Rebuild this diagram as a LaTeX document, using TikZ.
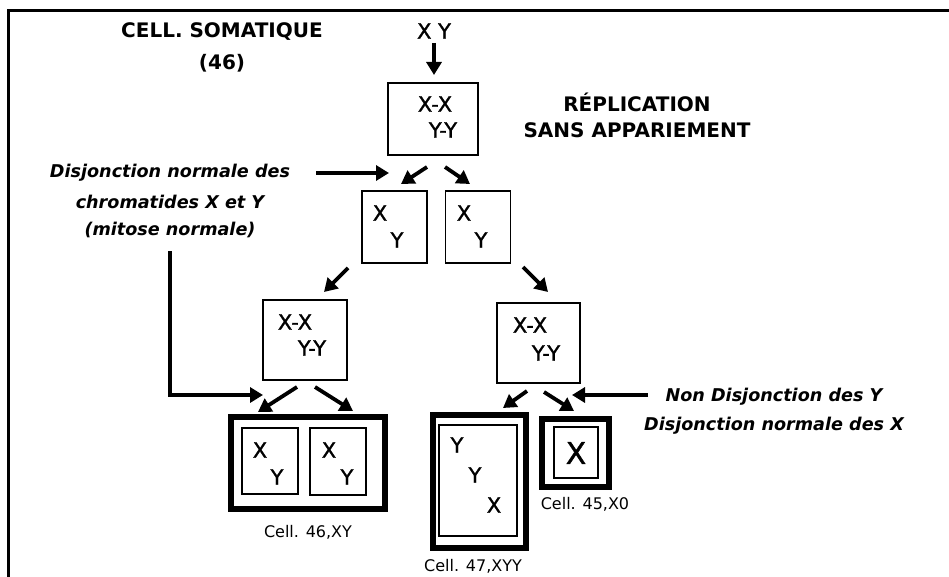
\documentclass[tikz,border=0pt]{standalone}
\usepackage{fontspec}
\setmainfont{DejaVu Sans}
\newfontfamily\chrfont[FakeBold=1.3]{DejaVu Sans}
\usetikzlibrary{arrows.meta}
\tikzset{
  arr/.style={line width=3.8pt,-{Triangle[length=13pt,width=15pt]}},
  cbox/.style={draw,line width=1.3pt,inner sep=0pt},
  tbox/.style={draw,line width=6pt,inner sep=0pt},
  lbl/.style={font=\bfseries\fontsize{20}{22}\selectfont,inner sep=0pt},
  itl/.style={font=\bfseries\itshape\fontsize{17.6}{20}\selectfont,inner sep=0pt},
  chr/.style={font=\chrfont\fontsize{21}{23}\selectfont,inner sep=0pt},
  celllbl/.style={font=\fontsize{16}{18}\selectfont,inner sep=0pt},
}
\begin{document}
\begin{tikzpicture}[x=1pt,y=-1pt]
\useasboundingbox (0,0) rectangle (949,577);
\draw[line width=3pt] (8,580) -- (8,11) -- (952,11);
% labels
\node[lbl] (som) at (222,32) {CELL. SOMATIQUE};
\node[lbl] (n46) at (222,63) {(46)};
\node[chr] (xy) at (434,31) {X Y};
\node[lbl] (rep) at (637,102) {RÉPLICATION};
\node[lbl] (sans) at (637,130) {SANS APPARIEMENT};
\node[itl] (d1) at (170,173) {Disjonction normale des};
\node[itl] (d2) at (170,202) {chromatides X et Y};
\node[itl] (d3) at (170,230) {(mitose normale)};
\node[itl] (n1) at (774,397) {Non Disjonction des Y};
\node[itl] (n2) at (774,426) {Disjonction normale des X};
% boxes
\node[cbox,minimum width=90pt,minimum height=72pt] (b1) at (433,119) {};
\node[chr] (b1x) at (435,104) {X-X};
\node[chr] (b1y) at (443,130) {Y-Y};
\node[cbox,minimum width=65pt,minimum height=72pt] (b2a) at (394.5,227) {};
\node[chr] (b2ax) at (380,213) {X};
\node[chr] (b2ay) at (397,240) {Y};
\node[cbox,minimum width=65pt,minimum height=72pt] (b2b) at (478,227) {};
\node[chr] (b2bx) at (464,213) {X};
\node[chr] (b2by) at (481,240) {Y};
\node[cbox,minimum width=84pt,minimum height=80pt] (b3a) at (305,340) {};
\node[chr] (b3ax) at (295,322) {X-X};
\node[chr] (b3ay) at (312,348) {Y-Y};
\node[cbox,minimum width=83pt,minimum height=80pt] (b3b) at (538.5,343) {};
\node[chr] (b3bx) at (530,325) {X-X};
\node[chr] (b3by) at (546,353) {Y-Y};
% final cells
\node[tbox,minimum width=154pt,minimum height=92pt] (c46) at (308,463) {};
\node[cbox,minimum width=56pt,minimum height=66pt] (c46a) at (270,461) {};
\node[cbox,minimum width=56pt,minimum height=67pt] (c46b) at (338,461.5) {};
\node[chr] (c46ax) at (260,450) {X};
\node[chr] (c46ay) at (277,477) {Y};
\node[chr] (c46bx) at (329,450) {X};
\node[chr] (c46by) at (347,477) {Y};
\node[celllbl] (l46) at (308,532) {Cell. 46,XY};
\node[tbox,minimum width=93pt,minimum height=133pt] (c47) at (479.5,481.5) {};
\node[cbox,minimum width=78pt,minimum height=111pt] (c47i) at (478,480.5) {};
\node[chr] (c47y1) at (457,445) {Y};
\node[chr] (c47y2) at (475,475) {Y};
\node[chr] (c47x) at (494,505) {X};
\node[celllbl] (l47) at (473,566) {Cell. 47,XYY};
\node[tbox,minimum width=67pt,minimum height=68pt] (c45) at (575.5,453) {};
\node[cbox,minimum width=44pt,minimum height=51pt] (c45i) at (576,452.5) {};
\node[chr,font=\chrfont\fontsize{30}{32}\selectfont] (c45x) at (576,453) {X};
\node[celllbl] (l45) at (585,504) {Cell. 45,X0};
% arrow endpoints
\coordinate (a0s) at (434,43);  \coordinate (a0e) at (434,75);
\coordinate (h1s) at (316,173); \coordinate (h1e) at (389,173);
\coordinate (a1s) at (427,167); \coordinate (a1e) at (401,184);
\coordinate (a2s) at (445,167); \coordinate (a2e) at (470,184);
\coordinate (a3s) at (348,268); \coordinate (a3e) at (324,292);
\coordinate (a4s) at (523,267); \coordinate (a4e) at (548,292);
\coordinate (vt) at (170,251);  \coordinate (vc) at (170,395); \coordinate (ve) at (263,395);
\coordinate (a5s) at (297,387); \coordinate (a5e) at (258,412);
\coordinate (a6s) at (315,387); \coordinate (a6e) at (353,411);
\coordinate (a7s) at (527,391); \coordinate (a7e) at (503,408);
\coordinate (a8s) at (544,392); \coordinate (a8e) at (574,411);
\coordinate (h2s) at (648,395); \coordinate (h2e) at (572,395);
\draw[arr] (a0s) -- (a0e);
\draw[arr] (h1s) -- (h1e);
\draw[arr] (a1s) -- (a1e);
\draw[arr] (a2s) -- (a2e);
\draw[arr] (a3s) -- (a3e);
\draw[arr] (a4s) -- (a4e);
\draw[arr] (vt) -- (vc) -- (ve);
\draw[arr] (a5s) -- (a5e);
\draw[arr] (a6s) -- (a6e);
\draw[arr] (a7s) -- (a7e);
\draw[arr] (a8s) -- (a8e);
\draw[arr] (h2s) -- (h2e);
\end{tikzpicture}
\end{document}
